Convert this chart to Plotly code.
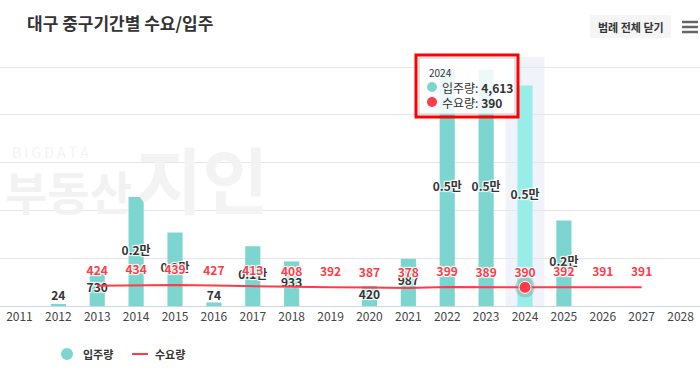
import plotly.graph_objects as go

years = [str(y) for y in range(2011, 2029)]
supply = [0, 24, 730, 2280, 1540, 74, 1250, 933, 0, 420, 987, 4950, 4950, 4613, 1790, 0, 0, 0]
demand = [None, None, 424, 434, 439, 427, 413, 408, 392, 387, 378, 399, 389, 390, 392, 391, 391, None]
hover_idx = 13  # 2024

FONT = "Noto Sans CJK KR, Noto Sans, sans-serif"
BAR = "#7dd5cf"
BAR_HI = "#99ede8"
RED = "#ff3b47"

def fmt(v):
    return f"{v/10000:.1f}만" if v >= 1000 else f"{v}"

bar_colors = [BAR_HI if i == hover_idx else BAR for i in range(len(years))]
bar_text = [fmt(v) if v > 0 else "" for v in supply]
bar_text_y = [max(v / 2, 190) for v in supply]

WHITE_OUT = "1px 1px 1px #fff, -1px -1px 1px #fff, 1px -1px 1px #fff, -1px 1px 1px #fff"

fig = go.Figure()

fig.add_trace(go.Bar(x=years, y=supply, marker=dict(color=bar_colors, line=dict(width=0)),
                     hoverinfo="skip", showlegend=False))

fig.add_trace(go.Scatter(x=years, y=bar_text_y, mode="text", text=bar_text,
                         textfont=dict(family=FONT, size=12, color="#333333", weight="bold", shadow=WHITE_OUT),
                         hoverinfo="skip", showlegend=False))

fig.add_trace(go.Scatter(x=years, y=demand, mode="lines", line=dict(color=RED, width=2),
                         connectgaps=False, hoverinfo="skip", showlegend=False))

demand_lbl_y = [None if d is None else d + 290 for d in demand]
fig.add_trace(go.Scatter(x=years, y=demand_lbl_y, mode="text",
                         text=["" if d is None else str(d) for d in demand],
                         textfont=dict(family=FONT, size=12, color=RED, weight="bold", shadow=WHITE_OUT),
                         hoverinfo="skip", showlegend=False))

# hover marker at 2024
fig.add_trace(go.Scatter(x=[years[hover_idx]], y=[demand[hover_idx]], mode="markers",
                         marker=dict(size=20, color="rgba(120,120,120,0.28)"), hoverinfo="skip", showlegend=False))
fig.add_trace(go.Scatter(x=[years[hover_idx]], y=[demand[hover_idx]], mode="markers",
                         marker=dict(size=12, color=RED, line=dict(color="#ffffff", width=1)),
                         hoverinfo="skip", showlegend=False))

W, H = 700, 371
TOP, BOT = 57, 306

def py(p):
    return (BOT - p) / (BOT - TOP)

def px(x):
    return x / W

shapes = []
annotations = []

# highlight band for hovered category
shapes.append(dict(type="rect", xref="x", yref="paper", x0=hover_idx - 0.5, x1=hover_idx + 0.5,
                   y0=0, y1=1, fillcolor="#f0f3fa", line=dict(width=0), layer="below"))

# watermark
annotations.append(dict(xref="paper", yref="paper", x=px(10), y=py(152), xanchor="left", yanchor="middle",
                        text="B I G D A T A", showarrow=False,
                        font=dict(family=FONT, size=14, color="#f3f3f3")))
annotations.append(dict(xref="paper", yref="paper", x=px(3), y=py(190), xanchor="left", yanchor="middle",
                        text="<b>부동산</b>", showarrow=False,
                        font=dict(family=FONT, size=46, color="#f2f2f2")))
annotations.append(dict(xref="paper", yref="paper", x=px(134), y=py(176), xanchor="left", yanchor="middle",
                        text="<b>지인</b>", showarrow=False,
                        font=dict(family=FONT, size=72, color="#f3f3f3")))

# title
annotations.append(dict(xref="paper", yref="paper", x=px(25), y=py(22), xanchor="left", yanchor="middle",
                        text="<b>대구 중구기간별 수요/입주</b>", showarrow=False,
                        font=dict(family=FONT, size=17, color="#333333")))

# button
shapes.append(dict(type="rect", xref="paper", yref="paper", x0=px(590), x1=px(671), y0=py(38), y1=py(15),
                   fillcolor="#f5f5f5", line=dict(width=0)))
annotations.append(dict(xref="paper", yref="paper", x=px(630.5), y=py(26.5), xanchor="center", yanchor="middle",
                        text="<b>범례 전체 닫기</b>", showarrow=False,
                        font=dict(family=FONT, size=11, color="#333333")))
for yy in (22, 27, 32):
    shapes.append(dict(type="line", xref="paper", yref="paper", x0=px(682), x1=px(698), y0=py(yy), y1=py(yy),
                       line=dict(color="#666666", width=2.5)))

# tooltip
shapes.append(dict(type="rect", xref="paper", yref="paper", x0=px(419), x1=px(515), y0=py(114), y1=py(58),
                   fillcolor="rgba(255,255,255,0.85)", line=dict(color="#cccccc", width=1)))
shapes.append(dict(type="rect", xref="paper", yref="paper", x0=px(416), x1=px(518), y0=py(117), y1=py(55),
                   fillcolor="rgba(0,0,0,0)", line=dict(color="#ff0000", width=3)))
annotations.append(dict(xref="paper", yref="paper", x=px(427), y=py(72), xanchor="left", yanchor="middle",
                        text=years[hover_idx], showarrow=False,
                        font=dict(family=FONT, size=10, color="#333333")))
shapes.append(dict(type="circle", xref="paper", yref="paper", x0=px(427), x1=px(437), y0=py(92), y1=py(82),
                   fillcolor=BAR, line=dict(width=0)))
annotations.append(dict(xref="paper", yref="paper", x=px(440), y=py(87), xanchor="left", yanchor="middle",
                        text=f"입주량: <b>{supply[hover_idx]:,}</b>", showarrow=False,
                        font=dict(family=FONT, size=12, color="#333333")))
shapes.append(dict(type="circle", xref="paper", yref="paper", x0=px(427), x1=px(437), y0=py(107), y1=py(97),
                   fillcolor=RED, line=dict(width=0)))
annotations.append(dict(xref="paper", yref="paper", x=px(440), y=py(102), xanchor="left", yanchor="middle",
                        text=f"수요량: <b>{demand[hover_idx]:,}</b>", showarrow=False,
                        font=dict(family=FONT, size=12, color="#333333")))

# legend
shapes.append(dict(type="circle", xref="paper", yref="paper", x0=px(61), x1=px(73), y0=py(360), y1=py(348),
                   fillcolor=BAR, line=dict(width=0)))
annotations.append(dict(xref="paper", yref="paper", x=px(81), y=py(354), xanchor="left", yanchor="middle",
                        text="<b>입주량</b>", showarrow=False,
                        font=dict(family=FONT, size=11, color="#333333")))
shapes.append(dict(type="line", xref="paper", yref="paper", x0=px(132), x1=px(148), y0=py(354), y1=py(354),
                   line=dict(color=RED, width=2)))
annotations.append(dict(xref="paper", yref="paper", x=px(153), y=py(354), xanchor="left", yanchor="middle",
                        text="<b>수요량</b>", showarrow=False,
                        font=dict(family=FONT, size=11, color="#333333")))

fig.update_layout(
    width=W, height=H,
    margin=dict(l=0, r=0, t=TOP, b=H - BOT),
    paper_bgcolor="#ffffff", plot_bgcolor="#ffffff",
    bargap=0.61,
    showlegend=False,
    shapes=shapes, annotations=annotations,
    xaxis=dict(type="category", categoryorder="array", categoryarray=years, range=[-0.5, len(years) - 0.5],
               showline=True, linecolor="#ccd6eb", linewidth=1, showgrid=False, ticks="",
               tickfont=dict(family=FONT, size=12, color="#444444"), fixedrange=True),
    yaxis=dict(range=[0, 5210], tickvals=[1000, 2000, 3000, 4000, 5000], showticklabels=False,
               showgrid=True, gridcolor="#e6e6e6", gridwidth=1, zeroline=False, fixedrange=True),
    font=dict(family=FONT),
)

fig.write_html("out.html", config={"displayModeBar": False},
               post_script="document.body.style.margin='0';document.body.style.overflow='hidden';")
